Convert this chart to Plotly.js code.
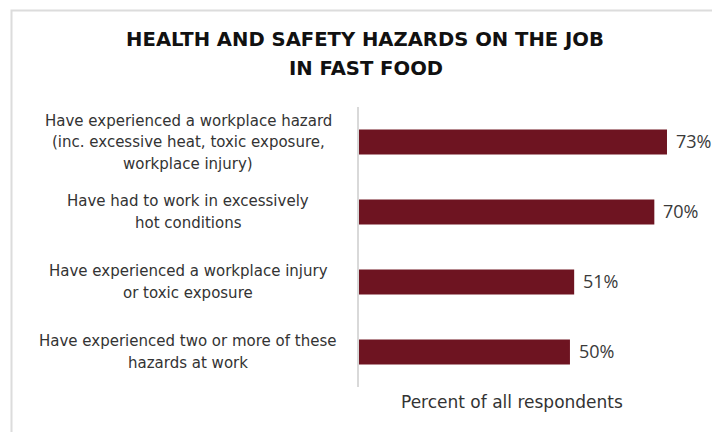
<!DOCTYPE html>
<html>
<head>
<meta charset="utf-8">
<script src="https://cdn.plot.ly/plotly-3.0.1.min.js"></script>
<style>
  html, body { margin: 0; padding: 0; background: #ffffff; }
  #chart { width: 712px; height: 432px; }
</style>
</head>
<body>
<div id="chart"></div>
<script>
// ---- data ----
const titleLines = ["HEALTH AND SAFETY HAZARDS ON THE JOB", "IN FAST FOOD"];
const categories = [
  "Have experienced a workplace hazard<br>(inc. excessive heat, toxic exposure,<br>workplace injury)",
  "Have had to work in excessively<br>hot conditions",
  "Have experienced a workplace injury<br>or toxic exposure",
  "Have experienced two or more of these<br>hazards at work"
];
const values = [73, 70, 51, 50];
const valueLabels = ["73%", "70%", "51%", "50%"];
const xAxisTitle = "Percent of all respondents";

// ---- layout constants ----
const W = 712, H = 432;
const L = 359, R = 12, T = 107, B = 45;
const PW = W - L - R, PH = H - T - B;
const px2x = p => (p - L) / PW;
const px2y = p => (H - B - p) / PH;

const barColor = "#6e1421";
const textColor = "#333333";
const titleSize = 19.6;

const annotations = [];

// category labels (centered, multi-line)
const lineGap = 21.5;
categories.forEach((cat, i) => {
  const lines = cat.split("<br>");
  lines.forEach((ln, j) => {
    annotations.push({
      xref: "paper", yref: "y",
      x: px2x(188), y: cat,
      text: ln, showarrow: false,
      xanchor: "center", yanchor: "middle",
      yshift: -((j - (lines.length - 1) / 2) * lineGap),
      font: { family: "DejaVu Sans", size: 15, color: textColor }
    });
  });
});

// value labels
values.forEach((v, i) => {
  annotations.push({
    xref: "x", yref: "y",
    x: v, y: categories[i],
    text: valueLabels[i], showarrow: false,
    xanchor: "left", yanchor: "middle", xshift: 7, yshift: 1,
    font: { family: "Open Sans", size: 18, color: "#3a3a3a" }
  });
});

// axis title
annotations.push({
  xref: "paper", yref: "paper",
  x: px2x(512), y: px2y(401.5),
  text: xAxisTitle, showarrow: false,
  xanchor: "center", yanchor: "middle",
  font: { family: "DejaVu Sans", size: 17, color: textColor }
});

// second title line
annotations.push({
  xref: "paper", yref: "paper",
  x: px2x(366), y: px2y(68.5),
  text: "<b>" + titleLines[1] + "</b>", showarrow: false,
  xanchor: "center", yanchor: "middle",
  font: { family: "DejaVu Sans", size: titleSize, color: "#111111" }
});

const trace = {
  type: "bar",
  orientation: "h",
  x: values,
  y: categories,
  marker: { color: barColor },
  hoverinfo: "none"
};

const layout = {
  width: W, height: H,
  margin: { l: L, r: R, t: T, b: B, pad: 0 },
  paper_bgcolor: "#ffffff",
  plot_bgcolor: "#ffffff",
  showlegend: false,
  bargap: 0.64,
  title: {
    text: "<b>" + titleLines[0] + "</b>",
    xref: "paper", yref: "container",
    x: px2x(365), xanchor: "center",
    y: 1 - 39.5 / H, yanchor: "middle",
    font: { family: "DejaVu Sans", size: titleSize, color: "#111111" }
  },
  xaxis: {
    range: [0, PW / 4.219],
    showgrid: false, zeroline: false, showline: false,
    showticklabels: false, ticks: "", fixedrange: true
  },
  yaxis: {
    type: "category",
    categoryorder: "array",
    categoryarray: categories,
    range: [3.5, -0.5],
    showgrid: false, zeroline: false,
    showline: true, linecolor: "#d9d9d9", linewidth: 2,
    showticklabels: false, ticks: "", fixedrange: true
  },
  annotations: annotations,
  shapes: [{
    type: "path", xref: "paper", yref: "paper",
    path: "M " + px2x(11.5) + " " + px2y(440) +
          " L " + px2x(11.5) + " " + px2y(10.5) +
          " L " + px2x(720) + " " + px2y(10.5),
    line: { color: "#dcdcdc", width: 2 }
  }]
};

Plotly.newPlot("chart", [trace], layout, { displayModeBar: false, staticPlot: true });
</script>
</body>
</html>
